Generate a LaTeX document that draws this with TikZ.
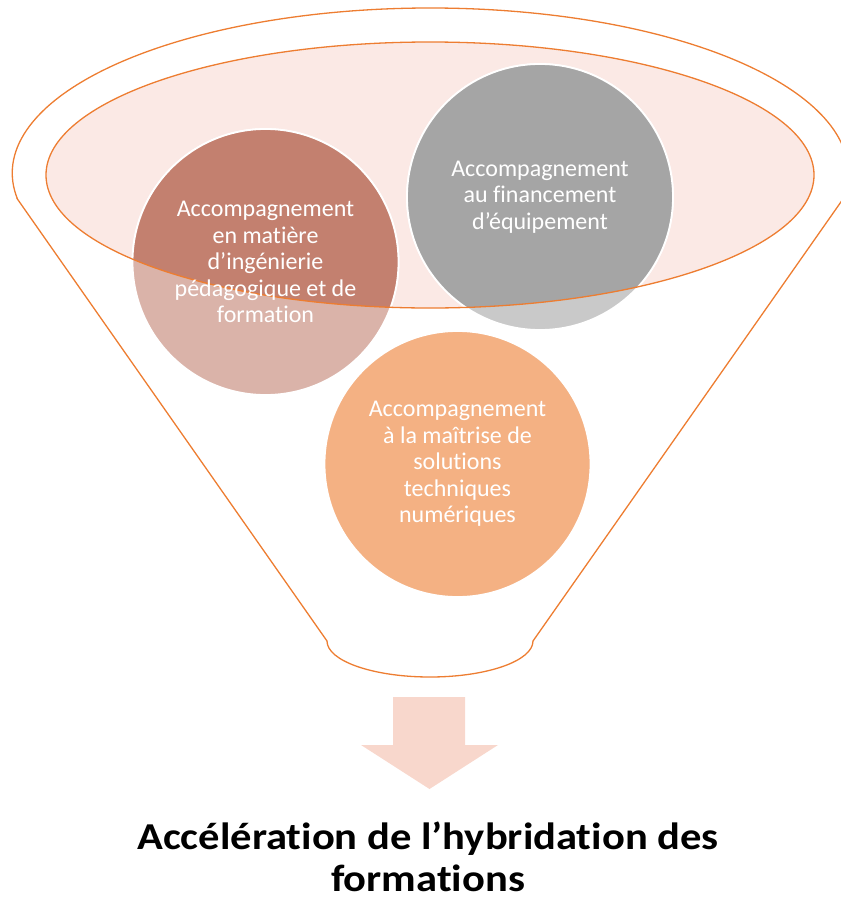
\documentclass[tikz,border=0pt]{standalone}
\usepackage{fontspec}
\setmainfont{Carlito}[Ligatures=NoCommon]
\definecolor{funnelorange}{HTML}{ED7D31}
\definecolor{pinkfill}{HTML}{FBE9E5}
\definecolor{browndark}{HTML}{C3806F}
\definecolor{brownlight}{HTML}{DAB3A9}
\definecolor{graydark}{HTML}{A5A5A5}
\definecolor{graylight}{HTML}{C9C9C9}
\definecolor{orangecirc}{HTML}{F4B183}
\definecolor{arrowfill}{HTML}{F8D7CC}
\newcommand{\titlestretch}[1]{\scalebox{1.12}[1]{#1}}
\tikzset{
  funnelline/.style={draw=funnelorange, line width=1.3pt},
  circborder/.style={draw=white, line width=1.8pt},
  circtext/.style={circle, minimum size=266pt, inner sep=0pt, align=center, text=white,
    font=\fontsize{24}{26.5}\selectfont},
  titletext/.style={anchor=base, inner sep=0pt, text=black,
    font=\fontsize{38}{46}\selectfont\bfseries}
}
\begin{document}
\begin{tikzpicture}[x=1pt,y=1pt]
\useasboundingbox (0,0) rectangle (841,-900);
\clip (0,0) rectangle (841,-900);
\coordinate (cB) at (265.5,-262);
\coordinate (cG) at (540,-197);
\coordinate (cO) at (457.5,-464);
\coordinate (cE) at (430,-175);
% funnel outline
\draw[funnelline] (17.4,-199) -- (327,-641)
  arc[start angle=180, end angle=360, x radius=103, y radius=36]
  -- (843,-199)
  arc[start angle=-9.07, end angle=189.07, x radius=418, y radius=165] -- cycle;
% inner ellipse fill
\fill[pinkfill] (cE) ellipse[x radius=384, y radius=133];
% circles (outside parts)
\fill[brownlight, circborder] (cB) circle[radius=133];
\fill[graylight, circborder] (cG) circle[radius=133];
% circles (inside ellipse)
\begin{scope}
  \clip (cE) ellipse[x radius=384, y radius=133];
  \fill[browndark, circborder] (cB) circle[radius=133];
  \fill[graydark, circborder] (cG) circle[radius=133];
\end{scope}
% inner ellipse border
\draw[funnelline] (cE) ellipse[x radius=384, y radius=133];
% orange circle
\fill[orangecirc, circborder] (cO) circle[radius=133];
% texts
\node[circtext] (brown) at (cB) {Accompagnement\\en matière\\d’ingénierie\\pédagogique et de\\formation};
\node[circtext] (gray) at (cG) {Accompagnement\\au financement\\d’équipement};
\node[circtext] (orange) at (cO) {Accompagnement\\à la maîtrise de\\solutions\\techniques\\numériques};
% arrow
\fill[arrowfill] (393,-697) -- (465,-697) -- (465,-745) -- (498,-745) -- (429.5,-789)
  -- (361,-745) -- (393,-745) -- cycle;
% title
\node[titletext] (title1) at (428,-849) {\titlestretch{Accélération de l’hybridation des}};
\node[titletext] (title2) at (428,-891) {\titlestretch{formations}};
\end{tikzpicture}
\end{document}
